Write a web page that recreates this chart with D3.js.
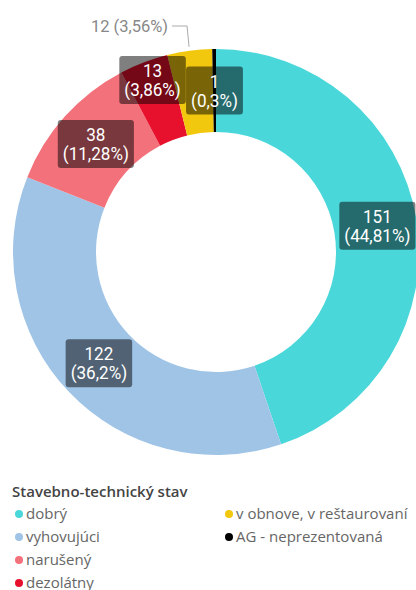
<!DOCTYPE html>
<html><head><meta charset="utf-8">
<script src="https://cdn.jsdelivr.net/npm/d3@7"></script>
<style>
html,body{margin:0;padding:0;background:#fff;}
svg{display:block;}
</style></head>
<body>
<svg id="chart" width="416" height="590"></svg>
<script>
const categories = ["dobrý","vyhovujúci","narušený","dezolátny","v obnove, v reštaurovaní","AG - neprezentovaná"];
const values = [151,122,38,13,12,1];
const percentLabels = ["44,81%","36,2%","11,28%","3,86%","3,56%","0,3%"];
const colors = ["#4ad7da","#a0c4e6","#f2717a","#e8112d","#f2c80f","#000000"];
const legendTitle = "Stavebno-technický stav";

const svg = d3.select("#chart");
const cx = 216, cy = 252, outerR = 203, innerR = 120;
const g = svg.append("g").attr("transform",`translate(${cx},${cy})`);

const pie = d3.pie().sort(null).value(d=>d.v);
const data = pie(values.map((v,i)=>({v, i})));
const arc = d3.arc().innerRadius(innerR).outerRadius(outerR);
g.selectAll("path.slice").data(data).enter().append("path")
  .attr("class","slice").attr("d",arc).attr("fill",d=>colors[d.data.i]);

// labels
const labelArc = d3.arc().innerRadius(innerR).outerRadius(outerR);
const font = "Roboto, 'DejaVu Sans', sans-serif";
const nudge = {0:[2,0],3:[-6,-21],4:[0,0]};
data.forEach(d=>{
  const i = d.data.i;
  if (i===4) return; // outside label
  let [x,y] = labelArc.centroid(d);
  if (nudge[i]) { x += nudge[i][0]; y += nudge[i][1]; }
  const lg = g.append("g").attr("transform",`translate(${x},${y})`);
  const t1 = String(values[i]), t2 = "(" + percentLabels[i] + ")";
  const rect = lg.append("rect").attr("rx",3).attr("fill","#000").attr("fill-opacity",0.5);
  const tg = lg.append("g").attr("transform","scale(0.9,1)");
  const tx = tg.append("text").attr("text-anchor","middle").attr("fill","#fff")
    .attr("font-family",font).attr("font-size",19);
  tx.append("tspan").attr("x",0).attr("y",-3).text(t1);
  tx.append("tspan").attr("x",0).attr("y",16).text(t2);
  const bb = tx.node().getBBox();
  const w = bb.width*0.9 + 10;
  rect.attr("x",-w/2).attr("y",-24).attr("width",w).attr("height",48);
});

// outside label for v obnove
{
  const d = data[4];
  const mid = (d.startAngle+d.endAngle)/2;
  const px = Math.sin(mid)*(outerR+4), py = -Math.cos(mid)*(outerR+4);
  const ex = px - 2, ey = 26 - cy;
  g.append("path").attr("d",`M${px},${py} L${ex},${ey} L${ex-15},${ey}`)
    .attr("fill","none").attr("stroke","#aaa").attr("stroke-width",1);
  g.append("text").attr("x",ex-19).attr("y",ey+6).attr("text-anchor","end")
    .attr("fill","#888").attr("font-family",font).attr("font-size",16.5)
    .text(values[4] + " (" + percentLabels[4] + ")");
}

// legend
const lfont = "'Segoe UI', 'Open Sans', 'Noto Sans', sans-serif";
svg.append("text").attr("x",12).attr("y",497).attr("fill","#444")
  .attr("font-family",lfont).attr("font-size",15).attr("font-weight",600).text(legendTitle);
const rowY = [519,542,565,588];
const cols = [[0,1,2,3],[4,5]];
const colX = [15,225];
cols.forEach((col,ci)=>{
  col.forEach((idx,ri)=>{
    const y = rowY[ri];
    svg.append("circle").attr("cx",colX[ci]+4).attr("cy",y-5).attr("r",4).attr("fill",colors[idx]);
    svg.append("text").attr("x",colX[ci]+11).attr("y",y).attr("fill","#666")
      .attr("font-family",lfont).attr("font-size",15).text(categories[idx]);
  });
});
</script>
</body></html>
